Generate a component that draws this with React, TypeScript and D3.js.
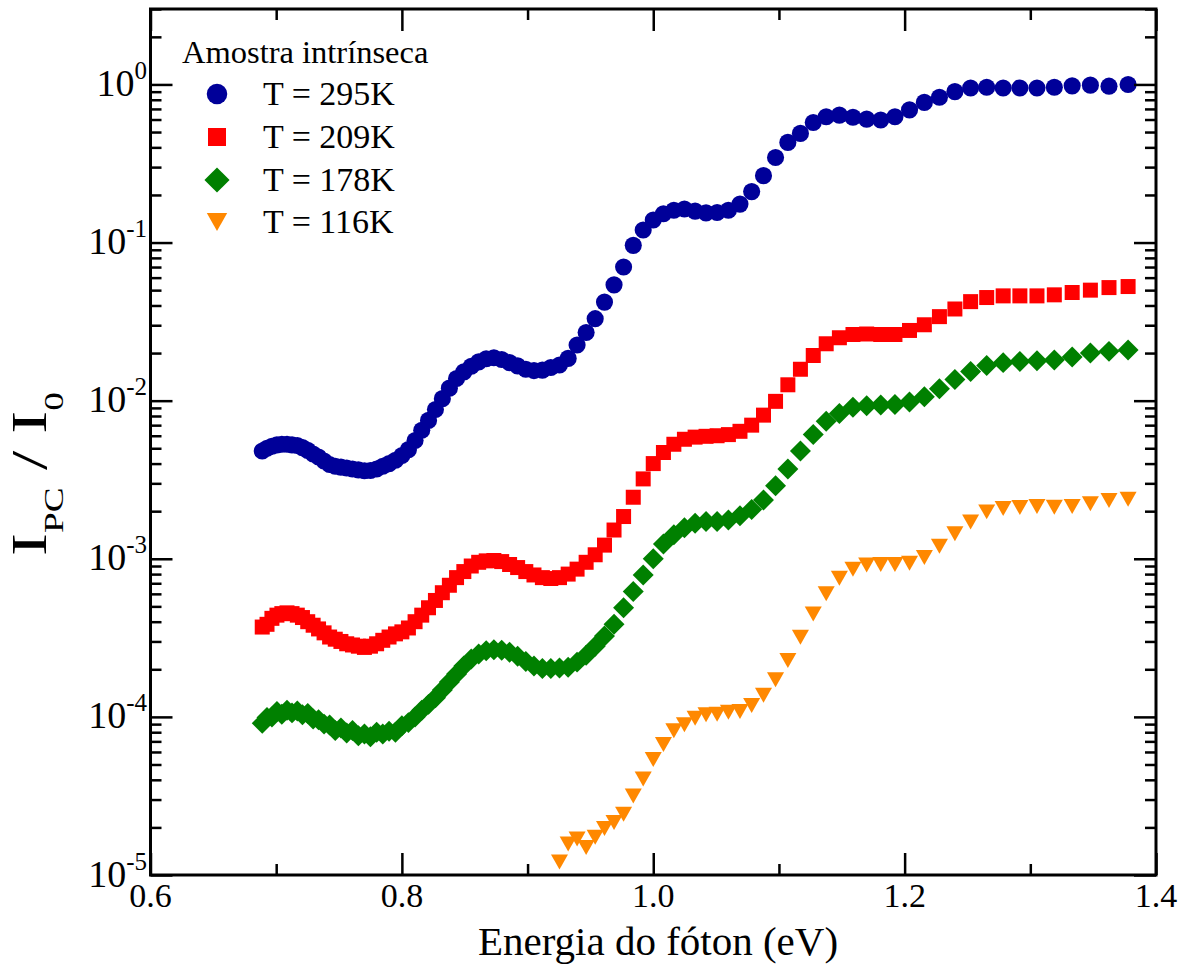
import React, { useEffect, useRef } from "react";
import * as d3 from "d3";

const energyEv = [
  0.6889, 0.6927, 0.6966, 0.7006, 0.7045, 0.7086, 0.7126, 0.7168, 0.7209, 0.7251,
  0.7294, 0.7337, 0.7381, 0.7425, 0.747, 0.7515, 0.7561, 0.7607, 0.7654, 0.7702,
  0.775, 0.7799, 0.7848, 0.7898, 0.7949, 0.8, 0.8052, 0.8105, 0.8158, 0.8212,
  0.8267, 0.8322, 0.8378, 0.8435, 0.8493, 0.8552, 0.8611, 0.8671, 0.8732, 0.8794,
  0.8857, 0.8921, 0.8986, 0.9051, 0.9118, 0.9185, 0.9254, 0.9323, 0.9394, 0.9466,
  0.9538, 0.9612, 0.9688, 0.9764, 0.9841, 0.992, 1.0, 1.0081, 1.0164, 1.0248,
  1.0333, 1.042, 1.0508, 1.0598, 1.069, 1.0783, 1.0877, 1.0973, 1.1071, 1.1171,
  1.1273, 1.1376, 1.1481, 1.1589, 1.1698, 1.181, 1.1923, 1.2039, 1.2157, 1.2277,
  1.24, 1.2525, 1.2653, 1.2784, 1.2917, 1.3053, 1.3191, 1.3333, 1.3478, 1.3626,
  1.3778,
];

const ipc295K = [
  4.8e-3, 5.0e-3, 5.15e-3, 5.25e-3, 5.3e-3, 5.3e-3, 5.25e-3, 5.2e-3, 5.05e-3, 4.85e-3,
  4.6e-3, 4.4e-3, 4.15e-3, 3.95e-3, 3.85e-3, 3.8e-3, 3.75e-3, 3.7e-3, 3.65e-3, 3.6e-3,
  3.62e-3, 3.7e-3, 3.85e-3, 4.0e-3, 4.2e-3, 4.5e-3, 4.9e-3, 5.6e-3, 6.5e-3, 7.5e-3,
  8.8e-3, 1.03e-2, 1.2e-2, 1.38e-2, 1.52e-2, 1.65e-2, 1.76e-2, 1.84e-2, 1.87e-2, 1.82e-2,
  1.74e-2, 1.66e-2, 1.58e-2, 1.55e-2, 1.56e-2, 1.62e-2, 1.68e-2, 1.85e-2, 2.25e-2, 2.7e-2,
  3.3e-2, 4.2e-2, 5.4e-2, 7.0e-2, 9.6e-2, 0.12, 0.139, 0.152, 0.16, 0.163,
  0.158, 0.154, 0.155, 0.16, 0.175, 0.21, 0.265, 0.345, 0.43, 0.49,
  0.575, 0.625, 0.64, 0.62, 0.603, 0.596, 0.625, 0.69, 0.77, 0.83,
  0.9, 0.95, 0.96, 0.95, 0.95, 0.95, 0.96, 0.98, 0.99, 0.975,
  1.0,
];

const ipc209K = [
  3.7e-4, 3.85e-4, 4.2e-4, 4.4e-4, 4.5e-4, 4.55e-4, 4.5e-4, 4.4e-4, 4.25e-4, 4.0e-4,
  3.8e-4, 3.6e-4, 3.4e-4, 3.2e-4, 3.1e-4, 3.0e-4, 2.9e-4, 2.85e-4, 2.8e-4, 2.75e-4,
  2.8e-4, 2.9e-4, 3.05e-4, 3.2e-4, 3.35e-4, 3.45e-4, 3.65e-4, 4.0e-4, 4.4e-4, 4.9e-4,
  5.45e-4, 6.1e-4, 6.8e-4, 7.6e-4, 8.3e-4, 9.0e-4, 9.5e-4, 9.7e-4, 9.75e-4, 9.6e-4,
  9.2e-4, 8.8e-4, 8.3e-4, 7.9e-4, 7.6e-4, 7.5e-4, 7.6e-4, 8.0e-4, 8.6e-4, 9.5e-4,
  1.06e-3, 1.22e-3, 1.52e-3, 1.85e-3, 2.45e-3, 3.2e-3, 4.0e-3, 4.7e-3, 5.3e-3, 5.7e-3,
  5.88e-3, 5.95e-3, 6.0e-3, 6.1e-3, 6.4e-3, 7.0e-3, 8.1e-3, 9.9e-3, 1.26e-2, 1.58e-2,
  1.93e-2, 2.29e-2, 2.5e-2, 2.62e-2, 2.64e-2, 2.62e-2, 2.62e-2, 2.78e-2, 3.02e-2, 3.4e-2,
  3.8e-2, 4.23e-2, 4.49e-2, 4.6e-2, 4.6e-2, 4.6e-2, 4.67e-2, 4.83e-2, 5.0e-2, 5.19e-2,
  5.27e-2,
];

const ipc178K = [
  9.1e-5, 9.9e-5, 1.0e-4, 1.08e-4, 1.04e-4, 1.1e-4, 1.06e-4, 1.09e-4, 1.03e-4, 1.05e-4,
  9.7e-5, 9.6e-5, 9.0e-5, 8.9e-5, 8.2e-5, 8.5e-5, 7.9e-5, 8.2e-5, 7.6e-5, 7.8e-5,
  7.5e-5, 8.0e-5, 7.8e-5, 8.1e-5, 8.0e-5, 8.8e-5, 9.2e-5, 1.0e-4, 1.1e-4, 1.2e-4,
  1.32e-4, 1.48e-4, 1.66e-4, 1.87e-4, 2.1e-4, 2.32e-4, 2.5e-4, 2.62e-4, 2.66e-4, 2.64e-4,
  2.56e-4, 2.42e-4, 2.24e-4, 2.1e-4, 2.02e-4, 2.02e-4, 2.04e-4, 2.06e-4, 2.22e-4, 2.45e-4,
  2.8e-4, 3.25e-4, 3.85e-4, 4.9e-4, 6.2e-4, 7.9e-4, 1.0e-3, 1.24e-3, 1.42e-3, 1.57e-3,
  1.68e-3, 1.72e-3, 1.72e-3, 1.76e-3, 1.87e-3, 2.05e-3, 2.35e-3, 2.9e-3, 3.7e-3, 4.8e-3,
  6.1e-3, 7.4e-3, 8.3e-3, 9.1e-3, 9.3e-3, 9.4e-3, 9.45e-3, 9.8e-3, 1.06e-2, 1.19e-2,
  1.36e-2, 1.53e-2, 1.67e-2, 1.74e-2, 1.77e-2, 1.79e-2, 1.81e-2, 1.89e-2, 2.0e-2, 2.05e-2,
  2.09e-2,
];

// the 116 K run starts later, at the 47th energy of the grid
const start116K = 46;
const ipc116K = [
  1.21e-5, 1.57e-5, 1.69e-5, 1.49e-5, 1.73e-5, 1.97e-5, 2.15e-5, 2.42e-5, 3.16e-5, 4.05e-5,
  5.37e-5, 6.68e-5, 8.18e-5, 8.93e-5, 9.82e-5, 1.03e-4, 1.04e-4, 1.07e-4, 1.08e-4, 1.18e-4,
  1.37e-4, 1.72e-4, 2.27e-4, 3.19e-4, 4.47e-4, 6.0e-4, 7.53e-4, 8.59e-4, 9.14e-4, 9.2e-4,
  9.2e-4, 9.37e-4, 1.02e-3, 1.2e-3, 1.44e-3, 1.71e-3, 1.98e-3, 2.08e-3, 2.11e-3, 2.14e-3,
  2.12e-3, 2.14e-3, 2.23e-3, 2.34e-3, 2.38e-3,
];

const xMajor = [0.6, 0.8, 1.0, 1.2, 1.4];
const xMinor = [0.7, 0.9, 1.1, 1.3];
const yExponents = [0, -1, -2, -3, -4, -5];

const legendTitle = "Amostra intrínseca";
const seriesLabels = ["T = 295K", "T = 209K", "T = 178K", "T = 116K"];

const FONT = "'Liberation Serif', 'Times New Roman', serif";

// marker shapes, centred on their bounding box
const diamond = {
  draw(ctx: any, size: number) {
    const r = Math.sqrt(size / 2);
    ctx.moveTo(0, -r);
    ctx.lineTo(r, 0);
    ctx.lineTo(0, r);
    ctx.lineTo(-r, 0);
    ctx.closePath();
  },
};
const triangleDown = {
  draw(ctx: any, size: number) {
    const w = Math.sqrt(size);
    const h = w * 0.88;
    ctx.moveTo(-w / 2, -h / 2);
    ctx.lineTo(w / 2, -h / 2);
    ctx.lineTo(0, h / 2);
    ctx.closePath();
  },
};

export default function App() {
  const svgRef = useRef<SVGSVGElement>(null);

  useEffect(() => {
    const svg = d3.select(svgRef.current);
    svg.selectAll("*").remove();

    const left = 150.5;
    const right = 1156;
    const top = 9;
    const bottom = 875;

    const x = d3.scaleLinear().domain([0.6, 1.4]).range([left, right]);
    const y = d3.scaleLog().domain([1e-5, 3]).range([bottom, top]);

    const series = [
      { xs: energyEv, ys: ipc295K, color: "#000099", type: d3.symbolCircle, size: 230 },
      { xs: energyEv, ys: ipc209K, color: "#ff0000", type: d3.symbolSquare, size: 225 },
      { xs: energyEv, ys: ipc178K, color: "#008000", type: diamond, size: 220 },
      { xs: energyEv.slice(start116K), ys: ipc116K, color: "#ff8800", type: triangleDown, size: 290 },
    ];

    // data markers
    series.forEach((s) => {
      const sym = d3.symbol().type(s.type as any).size(s.size);
      svg
        .append("g")
        .selectAll("path")
        .data(s.ys)
        .enter()
        .append("path")
        .attr("transform", (d, i) => `translate(${x(s.xs[i])},${y(d)})`)
        .attr("d", sym() as string)
        .attr("fill", s.color);
    });

    // ticks (all pointing inwards)
    const yMinor: number[] = [];
    for (let e = -5; e <= 0; e++) {
      for (let m = 2; m <= 9; m++) {
        const v = m * Math.pow(10, e);
        if (v <= 3) yMinor.push(v);
      }
    }
    const yMajor = yExponents.map((e) => Math.pow(10, e));

    const tickStyle = (g: any) => {
      g.select(".domain").remove();
      g.selectAll("line").attr("stroke", "#000").attr("stroke-width", 2.5);
      g.selectAll("text").remove();
    };

    const addTicks = (axisFn: any, scale: any, values: number[], size: number, tx: number, ty: number) => {
      svg
        .append("g")
        .attr("transform", `translate(${tx},${ty})`)
        .call(axisFn(scale).tickValues(values).tickSize(-size).tickFormat(() => ""))
        .call(tickStyle);
    };

    addTicks(d3.axisBottom, x, xMajor, 22, 0, bottom);
    addTicks(d3.axisBottom, x, xMinor, 11, 0, bottom);
    addTicks(d3.axisTop, x, xMajor, 22, 0, top);
    addTicks(d3.axisTop, x, xMinor, 11, 0, top);
    addTicks(d3.axisLeft, y, yMajor, 22, left, 0);
    addTicks(d3.axisLeft, y, yMinor, 11, left, 0);
    addTicks(d3.axisRight, y, yMajor, 22, right, 0);
    addTicks(d3.axisRight, y, yMinor, 11, right, 0);

    // frame
    svg
      .append("rect")
      .attr("x", left)
      .attr("y", top)
      .attr("width", right - left)
      .attr("height", bottom - top)
      .attr("fill", "none")
      .attr("stroke", "#000")
      .attr("stroke-width", 3);

    // x tick labels
    svg
      .append("g")
      .selectAll("text")
      .data(xMajor)
      .enter()
      .append("text")
      .attr("x", (d) => x(d))
      .attr("y", 907)
      .attr("text-anchor", "middle")
      .attr("font-family", FONT)
      .attr("font-size", 34)
      .text((d) => d3.format(".1f")(d));

    // y tick labels: 10^n
    const yLab = svg
      .append("g")
      .selectAll("text")
      .data(yExponents)
      .enter()
      .append("text")
      .attr("x", 147)
      .attr("y", (d) => y(Math.pow(10, d)) + 11.5)
      .attr("text-anchor", "end")
      .attr("font-family", FONT);
    yLab.append("tspan").attr("font-size", 38).text("10");
    yLab
      .append("tspan")
      .attr("font-size", 25)
      .attr("dy", -17)
      .text((d) => (d === 0 ? "0" : `-${-d}`));

    // axis titles
    svg
      .append("text")
      .attr("x", 658)
      .attr("y", 955)
      .attr("text-anchor", "middle")
      .attr("font-family", FONT)
      .attr("font-size", 41)
      .text("Energia do fóton (eV)");

    const yTitle = svg
      .append("text")
      .attr("transform", "translate(46,474) rotate(-90) scale(1.38,1)")
      .attr("text-anchor", "middle")
      .attr("font-family", FONT)
      .attr("font-size", 50);
    yTitle.append("tspan").text("I");
    yTitle.append("tspan").attr("font-size", 27).attr("dy", 17).text("PC");
    yTitle.append("tspan").attr("dy", -17).text(" / I");
    yTitle.append("tspan").attr("font-size", 27).attr("dy", 17).text("0");

    // legend
    svg
      .append("text")
      .attr("x", 182)
      .attr("y", 63)
      .attr("font-family", FONT)
      .attr("font-size", 32.5)
      .text(legendTitle);

    const legendY = [105, 148, 191, 233];
    series.forEach((s, i) => {
      const sym = d3.symbol().type(s.type as any).size(s.size * 1.44);
      svg
        .append("path")
        .attr("transform", `translate(217,${legendY[i] - 11})`)
        .attr("d", sym() as string)
        .attr("fill", s.color);
      svg
        .append("text")
        .attr("x", 263)
        .attr("y", legendY[i])
        .attr("font-family", FONT)
        .attr("font-size", 34)
        .text(seriesLabels[i]);
    });
  }, []);

  return (
    <div style={{ position: "absolute", left: 0, top: 0, background: "#fff" }}>
      <svg ref={svgRef} width={1179} height={967} />
    </div>
  );
}
